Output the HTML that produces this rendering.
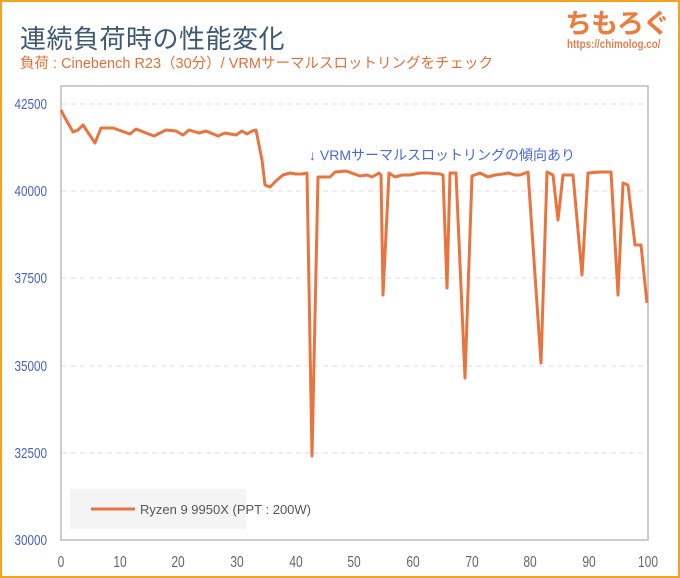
<!DOCTYPE html>
<html><head><meta charset="utf-8"><style>
html,body{margin:0;padding:0;background:#fff;}
body{width:680px;height:578px;overflow:hidden;position:relative;font-family:"Liberation Sans","Noto Sans CJK JP",sans-serif;}
.frame{position:absolute;left:0;top:0;width:676px;height:574px;border:2px solid #f5a21e;}
</style></head><body>
<div class="frame"></div>
<div style="position:absolute;left:20px;top:19px;font-size:26px;color:#3e5878;letter-spacing:0.5px;white-space:nowrap;">連続負荷時の性能変化</div>
<div style="position:absolute;left:20px;top:52px;font-size:14.5px;color:#e0703a;white-space:nowrap;">負荷 : Cinebench R23（30分）/ VRMサーマルスロットリングをチェック</div>
<div style="position:absolute;left:565px;top:2px;font-size:27px;font-weight:bold;color:#ec7b3c;letter-spacing:-1px;white-space:nowrap;">ちもろぐ</div>
<div style="position:absolute;left:567px;top:37px;font-size:12px;font-weight:bold;color:#e08050;white-space:nowrap;transform:scaleX(0.82);transform-origin:left;">https://chimolog.co/</div>
<svg width="680" height="578" style="position:absolute;left:0;top:0" font-family="Liberation Sans, sans-serif">
<g stroke="#ddd" stroke-dasharray="5,4" stroke-width="1">
<line x1="62" x2="647" y1="104" y2="104"/><line x1="62" x2="647" y1="191" y2="191"/>
<line x1="62" x2="647" y1="278" y2="278"/><line x1="62" x2="647" y1="366" y2="366"/>
<line x1="62" x2="647" y1="453" y2="453"/>
</g>
<rect x="61" y="86" width="587" height="454" fill="none" stroke="#bbb" stroke-width="1.5"/>
<g fill="#4a5fc8" font-size="15" text-anchor="end">
<g transform="translate(47,0) scale(0.78,1)">
<text x="0" y="109">42500</text>
<text x="0" y="196">40000</text>
<text x="0" y="283">37500</text>
<text x="0" y="371">35000</text>
<text x="0" y="458">32500</text>
<text x="0" y="545">30000</text>
</g></g>
<g fill="#666" font-size="16" text-anchor="middle">
<text x="61" y="567" transform="translate(61,0) scale(0.75,1) translate(-61,0)">0</text>
<text x="120" y="567" transform="translate(120,0) scale(0.75,1) translate(-120,0)">10</text>
<text x="178" y="567" transform="translate(178,0) scale(0.75,1) translate(-178,0)">20</text>
<text x="237" y="567" transform="translate(237,0) scale(0.75,1) translate(-237,0)">30</text>
<text x="296" y="567" transform="translate(296,0) scale(0.75,1) translate(-296,0)">40</text>
<text x="354" y="567" transform="translate(354,0) scale(0.75,1) translate(-354,0)">50</text>
<text x="413" y="567" transform="translate(413,0) scale(0.75,1) translate(-413,0)">60</text>
<text x="472" y="567" transform="translate(472,0) scale(0.75,1) translate(-472,0)">70</text>
<text x="530" y="567" transform="translate(530,0) scale(0.75,1) translate(-530,0)">80</text>
<text x="589" y="567" transform="translate(589,0) scale(0.75,1) translate(-589,0)">90</text>
<text x="648" y="567" transform="translate(648,0) scale(0.75,1) translate(-648,0)">100</text>
</g>
<text x="309" y="160" fill="#4a6ad8" font-size="14" font-family="Liberation Sans, Noto Sans CJK JP, sans-serif">↓ VRMサーマルスロットリングの傾向あり</text>
<polyline fill="none" stroke="#e8743f" stroke-width="3" stroke-linejoin="round" points="
61,110 64,116 73,132 78,130 83,125 95,143 101,128 113,128 130,134 136,129 146,133 154,136 166,130 176,131 183,135 189,130 199,133 206,131 218,136 225,133 236,135 242,131 247,134 252,131 256,130 262,160 265,185 270,187 277,180 283,175 290,173 296,174 302,174 307,173
312,456 318,177 330,177 335,172 346,171 360,176 367,175 372,177 379,173 381,175 383,295 389,173 395,177 402,175 410,175 420,173 428,173 440,174 443,175
447,288 450,173 456,173 465,378 472,176 480,173 488,177 495,175 503,174 508,173 515,175 520,175 528,172
541,363 547,172 553,175 558,220 563,175 573,175 582,275 588,173 600,172 611,172 618,295 623,183 628,185 635,245 641,245 647,303"/>
<rect x="70" y="489" width="176" height="40" fill="#f4f4f4"/>
<line x1="91" x2="135" y1="509" y2="509" stroke="#e8743f" stroke-width="3"/>
<text x="140" y="514" fill="#555" font-size="13">Ryzen 9 9950X (PPT : 200W)</text>
</svg>
</body></html>
